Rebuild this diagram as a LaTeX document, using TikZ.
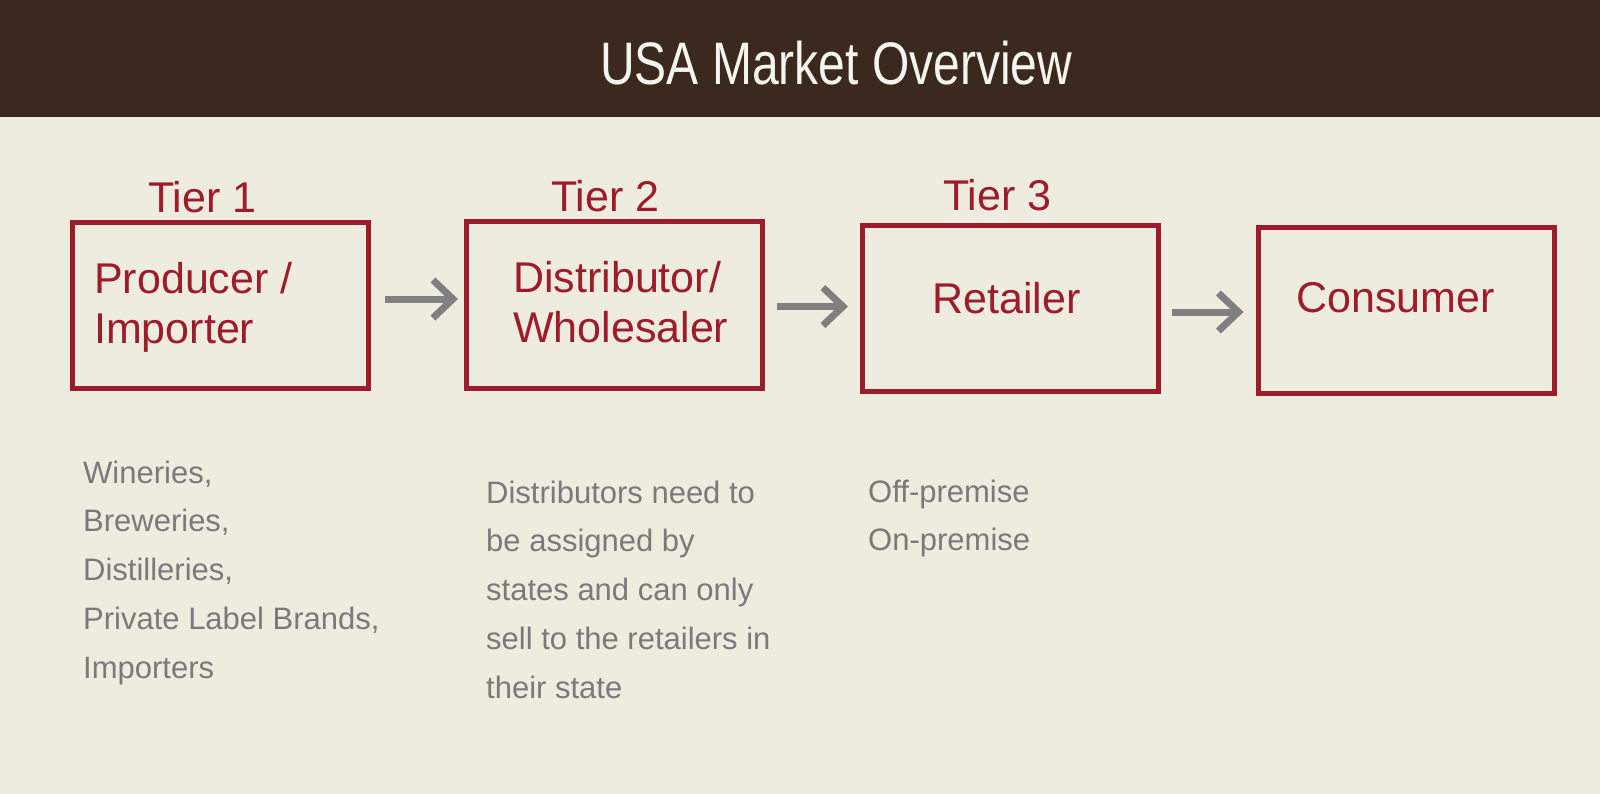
\documentclass[tikz,border=0pt]{standalone}
\usepackage{fontspec}
\setmainfont{Liberation Sans}
\newfontfamily\titlefont{Liberation Sans}[FakeStretch=0.8]
\usetikzlibrary{arrows.meta}
\definecolor{bgcol}{RGB}{238,235,223}
\definecolor{headcol}{RGB}{59,41,31}
\definecolor{boxred}{RGB}{158,27,43}
\definecolor{arrgray}{RGB}{128,128,128}
\definecolor{notegray}{RGB}{122,122,122}
\definecolor{titlecol}{RGB}{245,245,240}
\begin{document}
\begin{tikzpicture}[x=1pt,y=-1pt,
  tierbox/.style={draw=boxred, line width=5pt, minimum width=296pt, minimum height=166pt, inner sep=0pt},
  boxtext/.style={anchor=north west, inner sep=0pt, align=left, text=boxred, font=\fontsize{43}{50}\selectfont},
  tierlabel/.style={anchor=base west, inner sep=0pt, text=boxred, font=\fontsize{43}{50}\selectfont},
  notetext/.style={anchor=north west, inner sep=0pt, align=left, text=notegray, font=\fontsize{31}{48.75}\selectfont},
  flow/.style={draw=arrgray, line width=7pt, -{Straight Barb[length=20pt,width=38pt]}}]
\useasboundingbox (0,0) rectangle (1600,794);
\fill[bgcol] (0,0) rectangle (1600,794);
\fill[headcol] (0,0) rectangle (1600,117);
\node[anchor=base west, inner sep=0pt, text=titlecol, font=\titlefont\fontsize{60}{72}\selectfont] (title) at (600,85) {USA Market Overview};
% boxes
\node[tierbox] (b1) at (220,305.5) {};
\node[tierbox] (b2) at (614.5,305) {};
\node[tierbox] (b3) at (1010.5,308.5) {};
\node[tierbox] (b4) at (1406,310.5) {};
% tier labels
\node[tierlabel] (tier1) at (148,213) {Tier 1};
\node[tierlabel] (tier2) at (551,212) {Tier 2};
\node[tierlabel] (tier3) at (943,211) {Tier 3};
% box texts
\node[boxtext] (t1) at (94,252) {\rule{0pt}{41pt}Producer /\\Importer};
\node[boxtext] (t2) at (513,251) {\rule{0pt}{41pt}Distributor/\\Wholesaler};
\node[boxtext] (t3) at (932,272) {\rule{0pt}{41pt}Retailer};
\node[boxtext] (t4) at (1296,271) {\rule{0pt}{41pt}Consumer};
% arrows
\draw[flow] ([shift={(14.5,-6.5)}]b1.east) -- ([shift={(-6,-6)}]b2.west);
\draw[flow] ([shift={(12,1.5)}]b2.east) -- ([shift={(-12,-2)}]b3.west);
\draw[flow] ([shift={(11,3.5)}]b3.east) -- ([shift={(-12,1.5)}]b4.west);
% notes
\node[notetext] (n1) at (83,455) {\rule{0pt}{28pt}Wineries,\\Breweries,\\Distilleries,\\Private Label Brands,\\Importers};
\node[notetext] (n2) at (486,475) {\rule{0pt}{28pt}Distributors need to\\be assigned by\\states and can only\\sell to the retailers in\\their state};
\node[notetext] (n3) at (868,474) {\rule{0pt}{28pt}Off-premise\\On-premise};
\end{tikzpicture}
\end{document}
